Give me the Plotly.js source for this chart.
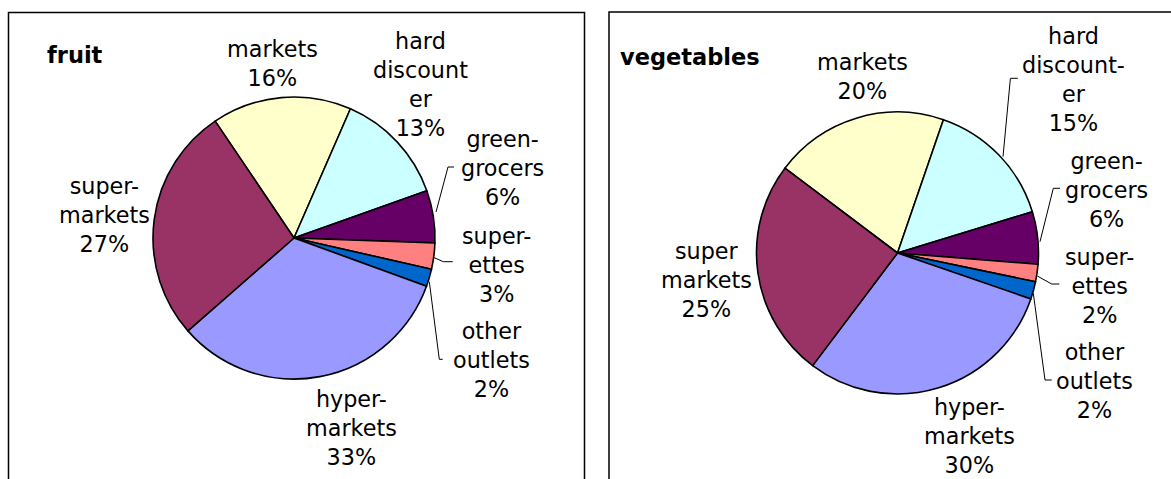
<!DOCTYPE html>
<html>
<head>
<meta charset="utf-8">
<script src="https://cdn.plot.ly/plotly-3.0.1.min.js"></script>
<style>
html,body{margin:0;padding:0;background:#fff;}
#chart{width:1171px;height:479px;}
</style>
</head>
<body>
<div id="chart"></div>
<script>
// ---- data ----
var categories = ["markets", "hard discounter", "green-grocers", "superettes", "other outlets", "hyper-markets", "super-markets"];
var fruitLabels = ["markets", "hard<br>discount<br>er", "green-<br>grocers", "super-<br>ettes", "other<br>outlets", "hyper-<br>markets", "super-<br>markets"];
var vegLabels = ["markets", "hard<br>discount-<br>er", "green-<br>grocers", "super-<br>ettes", "other<br>outlets", "hyper-<br>markets", "super<br>markets"];
var fruitValues = [16, 13, 6, 3, 2, 33, 27];
var vegValues = [20, 15, 6, 2, 2, 30, 25];
var colors = ["#FFFFCC", "#CCFFFF", "#660066", "#FF8080", "#0066CC", "#9999FF", "#993366"];

// ---- layout helpers (pixel -> paper) ----
var W = 1171, H = 479;
function px(x){ return x / W; }
function py(y){ return 1 - y / H; }

var FONT = "DejaVu Sans, Verdana, sans-serif";

// label positions (pixel centers), in category order
var fruitLabelPos = [[272, 63.5], [420, 84], [502, 167.5], [496, 264.5], [491.5, 359.5], [352, 427.5], [104, 215.5]];
var vegLabelPos = [[862, 76], [1073, 79.5], [1106.7, 190.5], [1099, 285.5], [1094, 380.5], [969.6, 436], [706, 279.5]];

// leader lines (pixel polylines)
var leaders = [
  [[436, 212], [448, 167], [454, 167]],
  [[433.3, 257.3], [443.3, 261.7], [452.7, 261.7]],
  [[429.3, 281.7], [439.3, 359.3], [442.7, 359.3]],
  [[1003, 156.7], [1010.4, 78.3], [1017.8, 78.3]],
  [[1040, 241.7], [1053.3, 188.3], [1060, 188.3]],
  [[1037.3, 276], [1051.7, 284], [1059.3, 284]],
  [[1033.3, 293.3], [1045, 380], [1051.7, 380]]
];

function pieTrace(values, labels, dom, rot){
  return {
    type: "pie",
    values: values,
    labels: categories,
    sort: false,
    direction: "clockwise",
    rotation: rot,
    textinfo: "none",
    hoverinfo: "label+percent",
    marker: {colors: colors, line: {color: "#000000", width: 1.6}},
    domain: dom
  };
}

var traces = [
  pieTrace(fruitValues, fruitLabels, {x: [px(153), px(435)], y: [py(379), py(97)]}, -34),
  pieTrace(vegValues, vegLabels, {x: [px(756.5), px(1038.5)], y: [py(394), py(112)]}, -53)
];

var annotations = [];
function addLabels(labels, values, pos){
  for (var i = 0; i < labels.length; i++){
    annotations.push({
      xref: "paper", yref: "paper",
      x: px(pos[i][0]), y: py(pos[i][1]),
      xanchor: "center", yanchor: "middle",
      align: "center",
      showarrow: false,
      borderpad: 0,
      text: labels[i] + "<br>" + values[i] + "%",
      font: {family: FONT, size: 22.3, color: "#000000"}
    });
  }
}
addLabels(fruitLabels, fruitValues, fruitLabelPos);
addLabels(vegLabels, vegValues, vegLabelPos);

annotations.push({xref: "paper", yref: "paper", x: px(45), y: py(55), xanchor: "left", yanchor: "middle",
  showarrow: false, text: "<b>fruit</b>", font: {family: FONT, size: 22.5, color: "#000000"}});
annotations.push({xref: "paper", yref: "paper", x: px(618), y: py(57), xanchor: "left", yanchor: "middle",
  showarrow: false, text: "<b>vegetables</b>", font: {family: FONT, size: 22.5, color: "#000000"}});

var shapes = [
  {type: "rect", xref: "paper", yref: "paper", x0: px(8.5), x1: px(584.5), y0: py(520), y1: py(12.5),
   line: {color: "#000000", width: 1.5}, fillcolor: "rgba(0,0,0,0)"},
  {type: "rect", xref: "paper", yref: "paper", x0: px(609), x1: px(1190), y0: py(520), y1: py(12),
   line: {color: "#000000", width: 1.5}, fillcolor: "rgba(0,0,0,0)"}
];
leaders.forEach(function(pl){
  for (var k = 0; k < pl.length - 1; k++){
    shapes.push({type: "line", xref: "paper", yref: "paper",
      x0: px(pl[k][0]), y0: py(pl[k][1]), x1: px(pl[k+1][0]), y1: py(pl[k+1][1]),
      line: {color: "#000000", width: 1}});
  }
});

var layout = {
  width: W, height: H,
  margin: {l: 0, r: 0, t: 0, b: 0},
  paper_bgcolor: "#ffffff",
  plot_bgcolor: "#ffffff",
  showlegend: false,
  annotations: annotations,
  shapes: shapes
};

Plotly.newPlot("chart", traces, layout, {displayModeBar: false, staticPlot: true});
</script>
</body>
</html>
